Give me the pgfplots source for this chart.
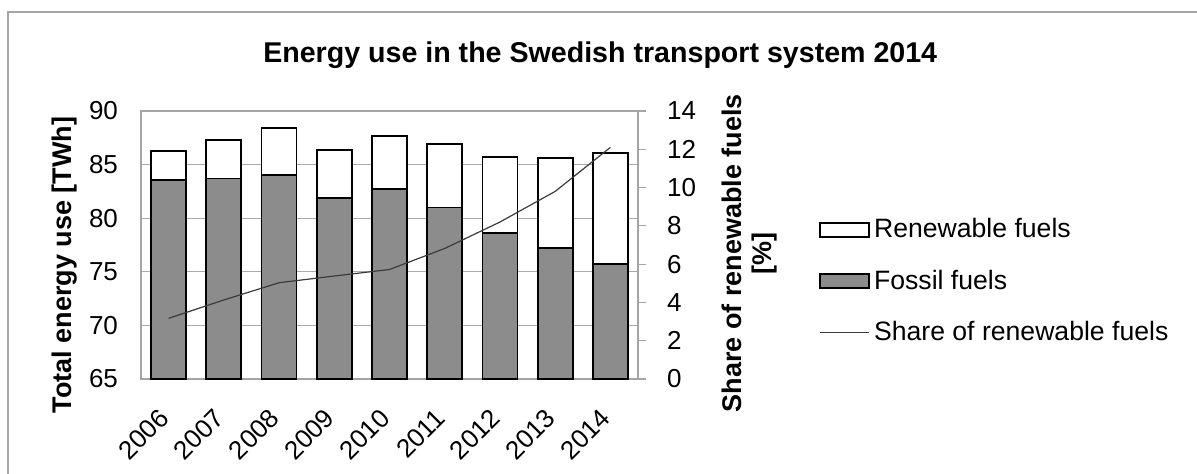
\documentclass[border=0pt]{standalone}
\usepackage{fontspec}
\setmainfont{Liberation Sans}
\usepackage{pgfplots}
\pgfplotsset{compat=1.18}
\definecolor{FrameGray}{RGB}{165,165,165}
\definecolor{GridGray}{RGB}{170,170,170}
\definecolor{FossilGray}{RGB}{140,140,140}
\definecolor{LineDark}{RGB}{60,60,60}

\begin{document}
\begin{tikzpicture}
\useasboundingbox (-70.5pt,-47pt) rectangle (528pt,189.5pt);
\draw[FrameGray, line width=0.6pt] (-66.5pt,-50pt) -- (-66.5pt,183.5pt) -- (530pt,183.5pt);

\begin{axis}[
    at={(0pt,0pt)}, anchor=south west,
    scale only axis,
    width=248.5pt, height=134pt,
    xmin=-0.5, xmax=8.5,
    ymin=65, ymax=90,
    ybar stacked,
    bar width=17.5pt,
    xtick={0,1,2,3,4,5,6,7,8},
    xticklabels={2006,2007,2008,2009,2010,2011,2012,2013,2014},
    ytick={65,70,75,80,85,90},
    ymajorgrids,
    grid style={draw=GridGray, line width=0.6pt},
    axis line style={draw=FrameGray, line width=0.6pt},
    major tick length=0pt,
    /pgf/number format/assume math mode=true,
    tick label style={font=\fontsize{13}{15}\selectfont},
    xticklabel style={xshift=-5.5pt, yshift=-12.5pt, rotate=45, anchor=north east, inner sep=1pt},
    yticklabel style={xshift=-8pt},
    ylabel={Total energy use [TWh]},
    ylabel style={at={(axis description cs:-0.153,0.425)}, anchor=center,
        font=\bfseries\fontsize{13.5}{15}\selectfont},
    title={Energy use in the Swedish transport system 2014},
    title style={at={(axis description cs:0.924,1.163)}, anchor=center, yshift=0pt,
        font=\bfseries\fontsize{14.3}{16}\selectfont},
]
\addplot[fill=FossilGray, draw=black, line width=0.9pt] coordinates {
    (0,83.6) (1,83.7) (2,84.0) (3,81.9) (4,82.7)
    (5,81.0) (6,78.6) (7,77.2) (8,75.7)
};
\addplot[fill=white, draw=black, line width=0.9pt] coordinates {
    (0,2.7) (1,3.6) (2,4.4) (3,4.5) (4,5.0)
    (5,5.9) (6,7.1) (7,8.4) (8,10.4)
};
\end{axis}

\begin{axis}[
    at={(0pt,0pt)}, anchor=south west,
    scale only axis,
    width=248.5pt, height=134pt,
    xmin=-0.5, xmax=8.5,
    ymin=0, ymax=14,
    axis y line*=right,
    axis x line=none,
    ytick={0,2,4,6,8,10,12,14},
    tick align=outside,
    major tick length=4pt,
    tick style={draw=FrameGray, line width=0.6pt},
    axis line style={draw=FrameGray, line width=0.6pt},
    /pgf/number format/assume math mode=true,
    tick label style={font=\fontsize{13}{15}\selectfont},
    yticklabel style={xshift=7pt},
    ylabel={Share of renewable fuels\\{[\%]}},
    ylabel style={at={(axis description cs:1.225,0.47)}, anchor=center, align=center,
        font=\bfseries\fontsize{13.5}{15}\selectfont},
    legend style={at={(axis description cs:1.364,0.615)}, anchor=north west,
        draw=none, fill=none, inner sep=0pt, row sep=10.5pt,
        font=\fontsize{13.3}{15}\selectfont},
    legend cell align=left,
]
\addlegendimage{legend image code/.code={\draw[fill=white, draw=black, line width=0.9pt] (0pt,-3.5pt) rectangle (24.5pt,3.5pt);}}
\addlegendentry{Renewable fuels}
\addlegendimage{legend image code/.code={\draw[fill=FossilGray, draw=black, line width=0.9pt] (0pt,-3.5pt) rectangle (24.5pt,3.5pt);}}
\addlegendentry{Fossil fuels}
\addlegendimage{legend image code/.code={\draw[LineDark, line width=0.6pt] (0pt,0pt) -- (24.5pt,0pt);}}
\addlegendentry{Share of renewable fuels}
\addplot[LineDark, line width=0.6pt, forget plot] coordinates {
    (0,3.17) (1,4.13) (2,5.03) (3,5.38) (4,5.72)
    (5,6.82) (6,8.2) (7,9.8) (8,12.1)
};
\end{axis}
\end{tikzpicture}
\end{document}
